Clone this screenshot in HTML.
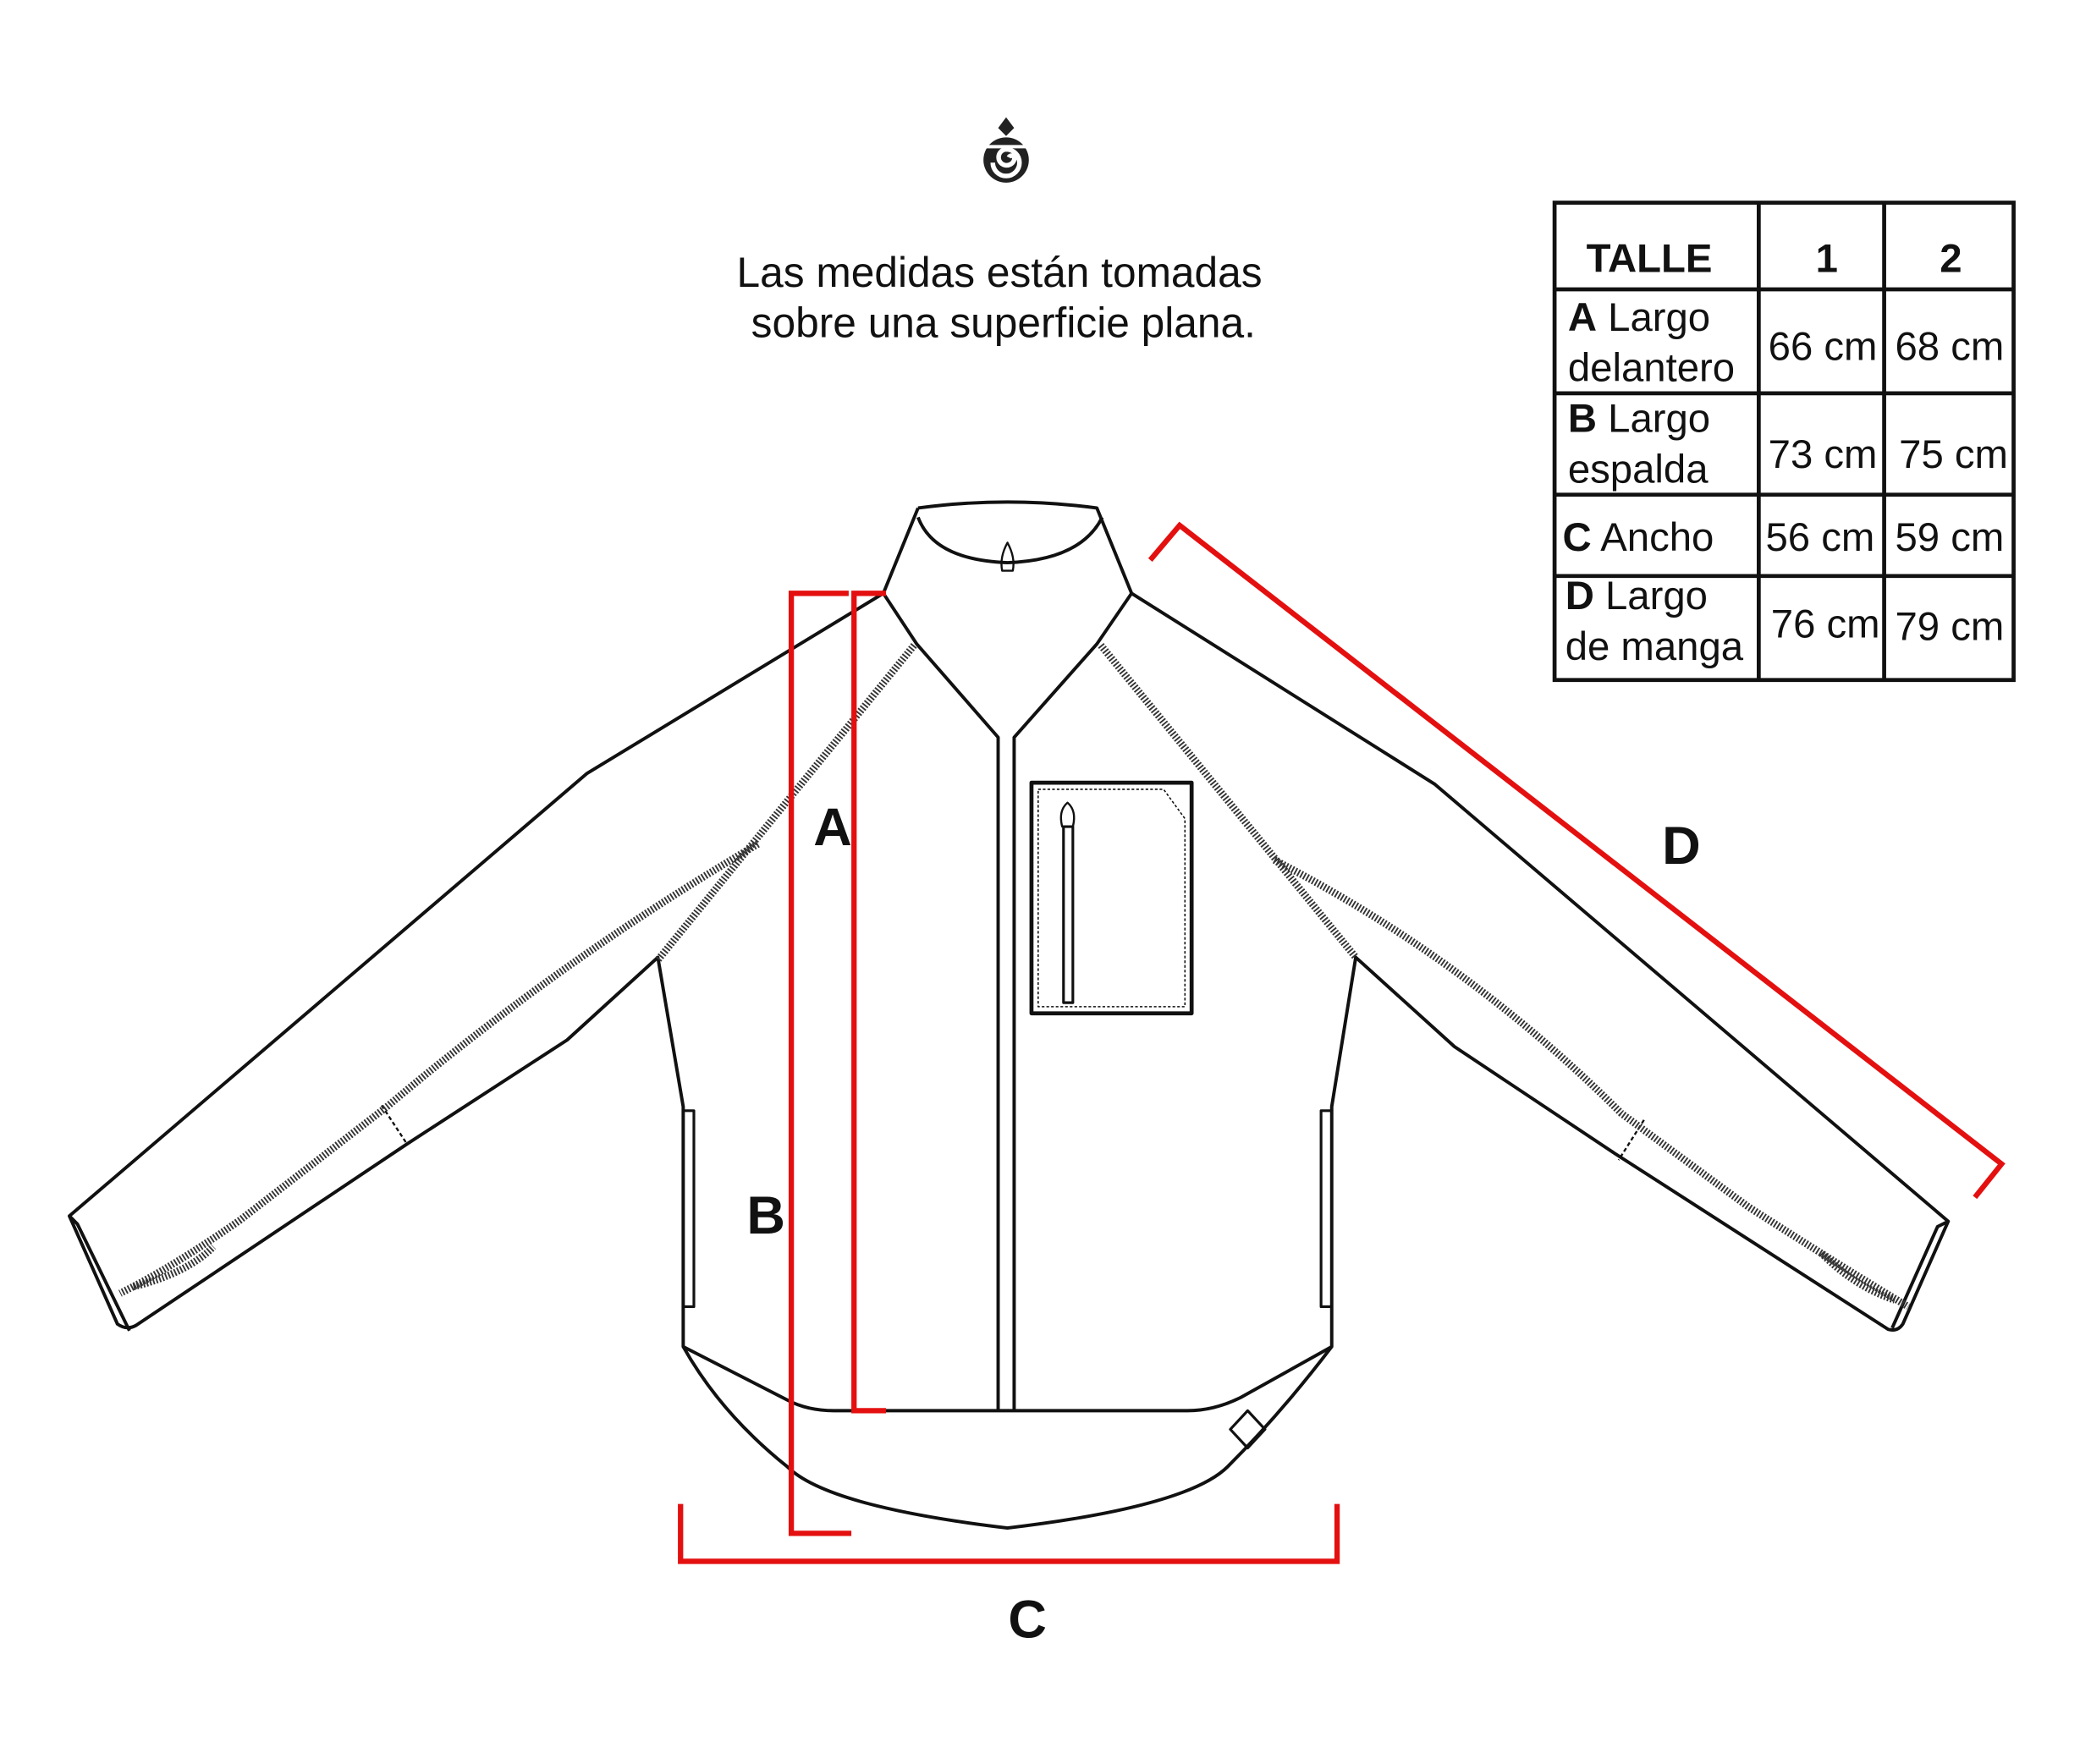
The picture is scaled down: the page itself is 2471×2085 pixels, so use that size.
<!DOCTYPE html>
<html><head><meta charset="utf-8"><style>
html,body{margin:0;padding:0;background:#fff;overflow:hidden;}
svg{display:block;}
text{font-family:"Liberation Sans",sans-serif;}
</style></head><body>
<svg width="2471" height="2085" viewBox="0 0 1567 1323" preserveAspectRatio="none" xmlns="http://www.w3.org/2000/svg">
<rect width="1567" height="1323" fill="#fff"/>
<g transform="translate(754,120)">
<path d="M0,-32 L6,-24 L0,-18 L-6,-24 Z" fill="#222"/>
<circle cx="0" cy="0" r="17" fill="#222"/>
<path d="M-10,2 A10,10 0 1 0 0,-8 A6,6 0 1 0 6,0 A2,2 0 0 0 2,-2" fill="none" stroke="#fff" stroke-width="3.5"/>
<path d="M-17,-10 L17,-10" stroke="#fff" stroke-width="2.5"/>
</g>
<text x="749" y="215" font-size="31.5" text-anchor="middle" fill="#111">Las medidas están tomadas</text>
<text x="752" y="253" font-size="31.5" text-anchor="middle" fill="#111">sobre una superficie plana.</text>

<g stroke="#111" stroke-width="3" fill="none">
<rect x="1165" y="152" width="344" height="358"/>
<line x1="1318" y1="152" x2="1318" y2="510"/>
<line x1="1412" y1="152" x2="1412" y2="510"/>
<line x1="1165" y1="217" x2="1509" y2="217"/>
<line x1="1165" y1="295" x2="1509" y2="295"/>
<line x1="1165" y1="371" x2="1509" y2="371"/>
<line x1="1165" y1="432" x2="1509" y2="432"/>
</g>
<g font-size="30" fill="#111">
<text x="1236" y="204" text-anchor="middle" font-weight="bold">TALLE</text>
<text x="1369" y="204" text-anchor="middle" font-weight="bold">1</text>
<text x="1462" y="204" text-anchor="middle" font-weight="bold">2</text>
<text x="1175" y="248"><tspan font-weight="bold">A</tspan> Largo</text>
<text x="1175" y="286">delantero</text>
<text x="1175" y="324"><tspan font-weight="bold">B</tspan> Largo</text>
<text x="1175" y="362">espalda</text>
<text x="1171" y="413"><tspan font-weight="bold">C</tspan> Ancho</text>
<text x="1173" y="457"><tspan font-weight="bold">D</tspan> Largo</text>
<text x="1173" y="495">de manga</text>
<text x="1366" y="270" text-anchor="middle">66 cm</text>
<text x="1461" y="270" text-anchor="middle">68 cm</text>
<text x="1366" y="351" text-anchor="middle">73 cm</text>
<text x="1464" y="351" text-anchor="middle">75 cm</text>
<text x="1364" y="413" text-anchor="middle">56 cm</text>
<text x="1461" y="413" text-anchor="middle">59 cm</text>
<text x="1368" y="478" text-anchor="middle">76 cm</text>
<text x="1461" y="480" text-anchor="middle">79 cm</text>
</g>

<g fill="none" stroke="#111" stroke-width="2.5" stroke-linejoin="round">
<path d="M688,381 Q755,372 822,381 L848,445 L822,483 L760,553 L760,1058 M688,381 L662,445 L687,483 L748,553 L748,1058"/>
<path d="M688,388 Q700,420 755,422 Q810,420 826,388"/>
<path d="M662,445 L440,580 L52,912 L88,993 Q95,998 102,994 L305,858 L425,780 L493,718 L512,830 L512,1010 Q540,1060 590,1100 Q620,1130 755,1146 Q890,1130 920,1100 Q960,1060 998,1010 L998,830 L1016,718 L1090,785 L1210,865 L1415,997 Q1422,999 1426,993 L1460,916 L1075,588 L848,445"/>
<path d="M52,912 L58,918 L97,998 M1460,916 L1452,920 L1418,996"/>
<path d="M512,1010 L590,1050 Q605,1058 625,1058 L890,1058 Q910,1058 930,1048 L998,1010"/>
<rect x="773" y="587" width="120" height="173" stroke-width="3"/>
<path d="M778,592 L872,592 L888,614 L888,755 L778,755 Z" stroke-width="1" stroke-dasharray="2,1.5"/>
<rect x="797" y="620" width="7" height="132" stroke-width="2"/>
<path d="M800,602 Q793,608 796,620 L804,620 Q807,608 800,602 Z" stroke-width="1.5"/>
<path d="M755,407 Q749,418 751,428 L759,428 Q761,418 755,407 Z" stroke-width="1.5"/>
<path d="M512,833 L520,833 L520,980 L512,980 M998,833 L990,833 L990,980 L998,980" stroke-width="2"/>
<path d="M922,1072 L935,1058 L948,1072 L935,1086 Z" stroke-width="2"/>
<path d="M286,829 L305,858 M1232,840 L1213,870" stroke-width="1.5" stroke-dasharray="3,2"/>
</g>
<g fill="none" stroke="#333" stroke-width="5.5" stroke-dasharray="1.2,1.3">
<path d="M685,484 L493,720"/>
<path d="M825,484 L1016,718"/>
<path d="M568,633 Q420,720 290,830 L180,915 Q130,950 90,970"/>
<path d="M955,645 Q1100,720 1215,835 L1310,905 Q1380,950 1430,980"/>
<path d="M100,965 Q140,955 160,935 M1365,940 Q1390,965 1420,975"/>
</g>

<g fill="none" stroke="#e41010" stroke-width="4">
<path d="M664,445 L640,445 L640,1058 L664,1058"/>
<path d="M636,445 L593,445 L593,1150 L638,1150"/>
<path d="M510,1128 L510,1171 L1002,1171 L1002,1128"/>
<path d="M862,420 L884,394 L1500,873 L1480,898"/>
</g>
<g font-size="40" font-weight="bold" fill="#111" text-anchor="middle">
<text x="624" y="634">A</text>
<text x="574" y="925">B</text>
<text x="770" y="1228">C</text>
<text x="1260" y="648">D</text>
</g>
</svg>
</body></html>
